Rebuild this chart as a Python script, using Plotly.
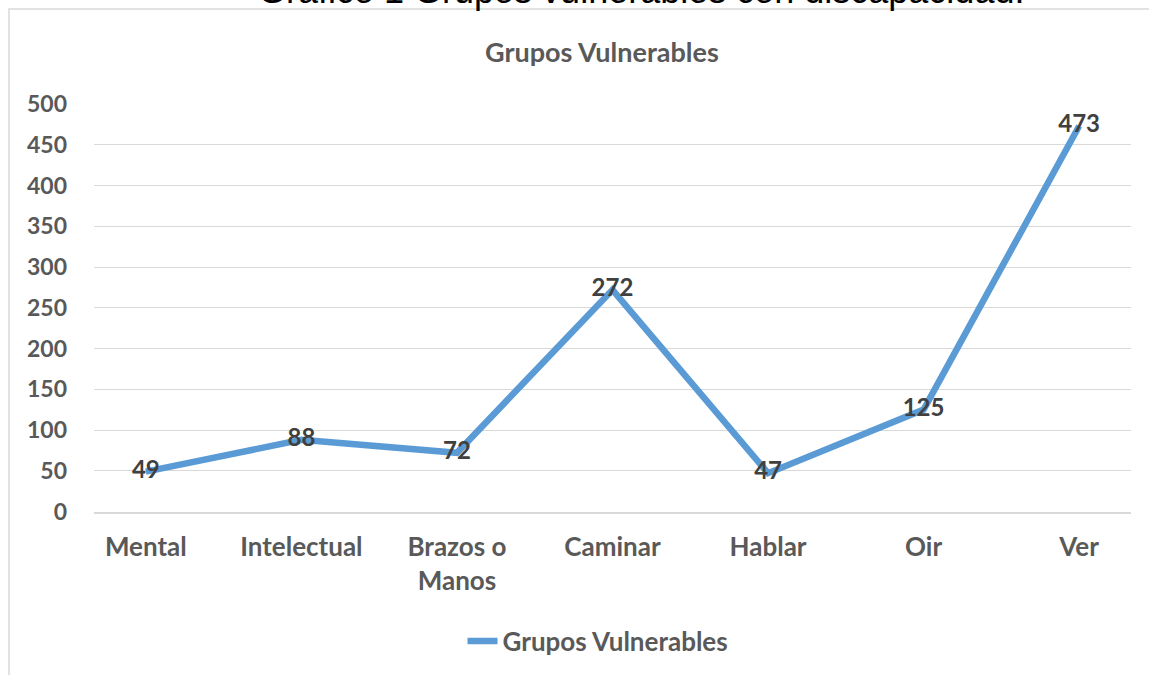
import plotly.graph_objects as go

categories = ["Mental", "Intelectual", "Brazos o<br>Manos", "Caminar", "Hablar", "Oir", "Ver"]
values = [49, 88, 72, 272, 47, 125, 473]
series_name = "Grupos Vulnerables"
y_ticks = [0, 50, 100, 150, 200, 250, 300, 350, 400, 450, 500]

W, H = 1149, 675
FONT = "Lato"
GREY = "#595959"


def px(x):
    return x / W


def py(y):
    return (H - y) / H


fig = go.Figure()
fig.add_trace(go.Scatter(
    x=categories, y=values, name=series_name,
    mode="lines+text",
    line=dict(color="#5B9BD5", width=6.5),
    text=[str(v) for v in values],
    textposition="middle center",
    textfont=dict(family=FONT, size=24, color="#404040", weight="bold"),
    cliponaxis=False,
))

fig.update_layout(
    width=W, height=H,
    margin=dict(l=0, r=0, t=0, b=0, pad=0, autoexpand=False),
    paper_bgcolor="white", plot_bgcolor="white",
    showlegend=True,
    legend=dict(orientation="h", x=px(598), xanchor="center", y=py(641), yanchor="middle",
                font=dict(family=FONT, size=26, color=GREY, weight="bold"),
                bgcolor="rgba(0,0,0,0)"),
    xaxis=dict(domain=[px(94), px(1131)], showgrid=False, zeroline=False, automargin=False,
               showline=True, linecolor="#D9D9D9", linewidth=2,
               ticks="", tickfont=dict(family=FONT, size=26, color=GREY, weight="bold"),
               ticklabelstandoff=11, fixedrange=True),
    yaxis=dict(domain=[py(511.5), py(104)], range=[0, 500], automargin=False,
               tickvals=y_ticks, showgrid=True, gridcolor="#D9D9D9", gridwidth=1,
               zeroline=False, showline=False, ticks="",
               tickfont=dict(family=FONT, size=23, color=GREY, weight="bold"),
               ticklabelstandoff=26, fixedrange=True),
    annotations=[
        dict(text="Grupos Vulnerables", xref="paper", yref="paper",
             x=px(602), y=py(52), xanchor="center", yanchor="middle", showarrow=False,
             font=dict(family=FONT, size=27, color=GREY, weight="bold")),
        dict(text="Gráfico 1 Grupos vulnerables con discapacidad.", xref="paper", yref="paper",
             x=px(641), y=py(13), xanchor="center", yanchor="bottom", showarrow=False,
             font=dict(family="Liberation Sans", size=36, color="black")),
    ],
    shapes=[
        dict(type="rect", xref="paper", yref="paper",
             x0=px(9), x1=1.05, y0=-0.05, y1=py(9),
             line=dict(color="#D9D9D9", width=1.5), fillcolor="rgba(0,0,0,0)", layer="below"),
    ],
)

fig.write_html("out.html", config={"displayModeBar": False},
               post_script="document.body.style.margin='0';")
